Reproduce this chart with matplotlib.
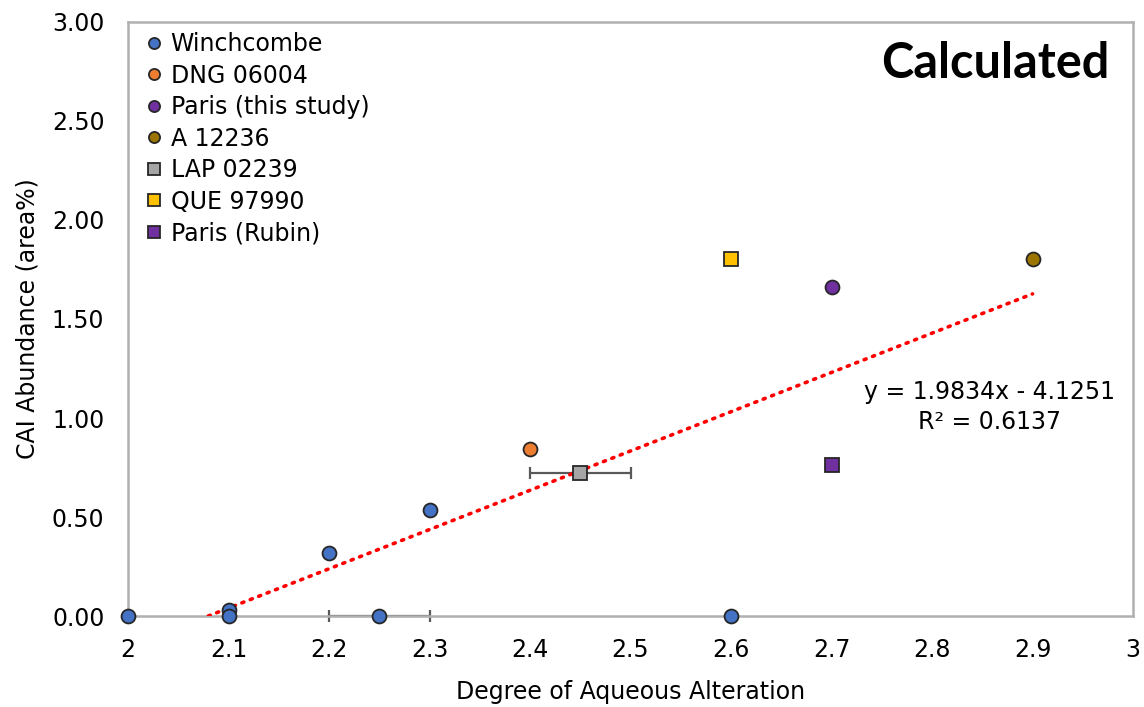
import matplotlib
matplotlib.use('Agg')
import matplotlib.pyplot as plt
import numpy as np

plt.rcParams['font.family'] = ['DejaVu Sans']

# data
winch_x = [2.0, 2.1, 2.1, 2.2, 2.25, 2.3, 2.6]
winch_y = [0.0, 0.03, 0.0, 0.32, 0.0, 0.535, 0.0]
winch_xerr = [0, 0, 0, 0, 0.05, 0, 0]

dng_x = [2.4]
dng_y = [0.845]

paris_x = [2.7]
paris_y = [1.66]

a12236_x = [2.9]
a12236_y = [1.805]

lap_x = [2.45]
lap_y = [0.72]
lap_xerr = [0.05]

que_x = [2.6]
que_y = [1.805]

rubin_x = [2.7]
rubin_y = [0.765]

slope = 1.9834
intercept = -4.1251
r2 = 0.6137

fig = plt.figure(figsize=(11.44, 7.07), dpi=100)
ax = fig.add_axes([0.1119, 0.1287, 0.8785, 0.8402])

edge = '#262626'
ms = 10

# error bars (drawn first, behind the markers)
ax.errorbar([winch_x[4]], [winch_y[4]], xerr=[winch_xerr[4]], fmt='none',
            ecolor='#595959', elinewidth=1.6, capsize=4.5, capthick=1.6,
            zorder=2, clip_on=False)
ax.errorbar(lap_x, lap_y, xerr=lap_xerr, fmt='none', ecolor='#595959',
            elinewidth=1.6, capsize=4.5, capthick=1.6, zorder=2)

# trendline (Excel linear fit, clipped at y = 0)
tx = np.array([-intercept / slope, max(a12236_x)])
ax.plot(tx, slope * tx + intercept, color='#FF0000', linestyle=(0, (0.6, 1.9)),
        linewidth=2.6, dash_capstyle='round', zorder=3)

ax.plot(winch_x, winch_y, 'o', color='#4472C4', mec=edge, mew=1.3, ms=ms,
        label='Winchcombe', clip_on=False, zorder=4)
ax.plot(dng_x, dng_y, 'o', color='#ED7D31', mec=edge, mew=1.3, ms=ms,
        label='DNG 06004', zorder=4)
ax.plot(paris_x, paris_y, 'o', color='#7030A0', mec=edge, mew=1.3, ms=ms,
        label='Paris (this study)', zorder=4)
ax.plot(a12236_x, a12236_y, 'o', color='#9C7500', mec=edge, mew=1.3, ms=ms,
        label='A 12236', zorder=4)
ax.plot(lap_x, lap_y, 's', color='#A5A5A5', mec=edge, mew=1.3, ms=ms,
        label='LAP 02239', zorder=4)
ax.plot(que_x, que_y, 's', color='#FFC000', mec=edge, mew=1.3, ms=ms,
        label='QUE 97990', zorder=4)
ax.plot(rubin_x, rubin_y, 's', color='#7030A0', mec=edge, mew=1.3, ms=ms,
        label='Paris (Rubin)', zorder=4)

ax.set_xlim(2, 3)
ax.set_ylim(0, 3)
ax.set_xticks(np.arange(2, 3.01, 0.1))
ax.set_xticklabels(['2', '2.1', '2.2', '2.3', '2.4', '2.5', '2.6', '2.7',
                    '2.8', '2.9', '3'])
ax.set_yticks(np.arange(0, 3.01, 0.5))
ax.set_yticklabels(['%.2f' % v for v in np.arange(0, 3.01, 0.5)])
ax.tick_params(axis='both', length=0, labelsize=17)
ax.tick_params(axis='x', pad=16)
ax.tick_params(axis='y', pad=17)

for s in ax.spines.values():
    s.set_color('#B0B0B0')
    s.set_linewidth(1.8)

ax.set_xlabel('Degree of Aqueous Alteration', fontsize=17, labelpad=13)
ax.set_ylabel('CAI Abundance (area%)', fontsize=17, labelpad=9)

ax.text(0.857, 0.352, 'y = 1.9834x - 4.1251\nR\u00b2 = 0.6137', transform=ax.transAxes,
        ha='center', va='center', fontsize=17, linespacing=1.3)
ax.text(0.977, 0.968, 'Calculated', transform=ax.transAxes, ha='right', va='top',
        fontsize=35, fontweight='bold', family=['Lato', 'DejaVu Sans'])

ax.legend(loc='upper left', bbox_to_anchor=(0.0, 1.015), frameon=False,
          fontsize=17, markerscale=0.8, handlelength=0.6, handletextpad=0.4,
          labelspacing=0.32, borderpad=0.3)

plt.savefig('out.png', dpi=100)
